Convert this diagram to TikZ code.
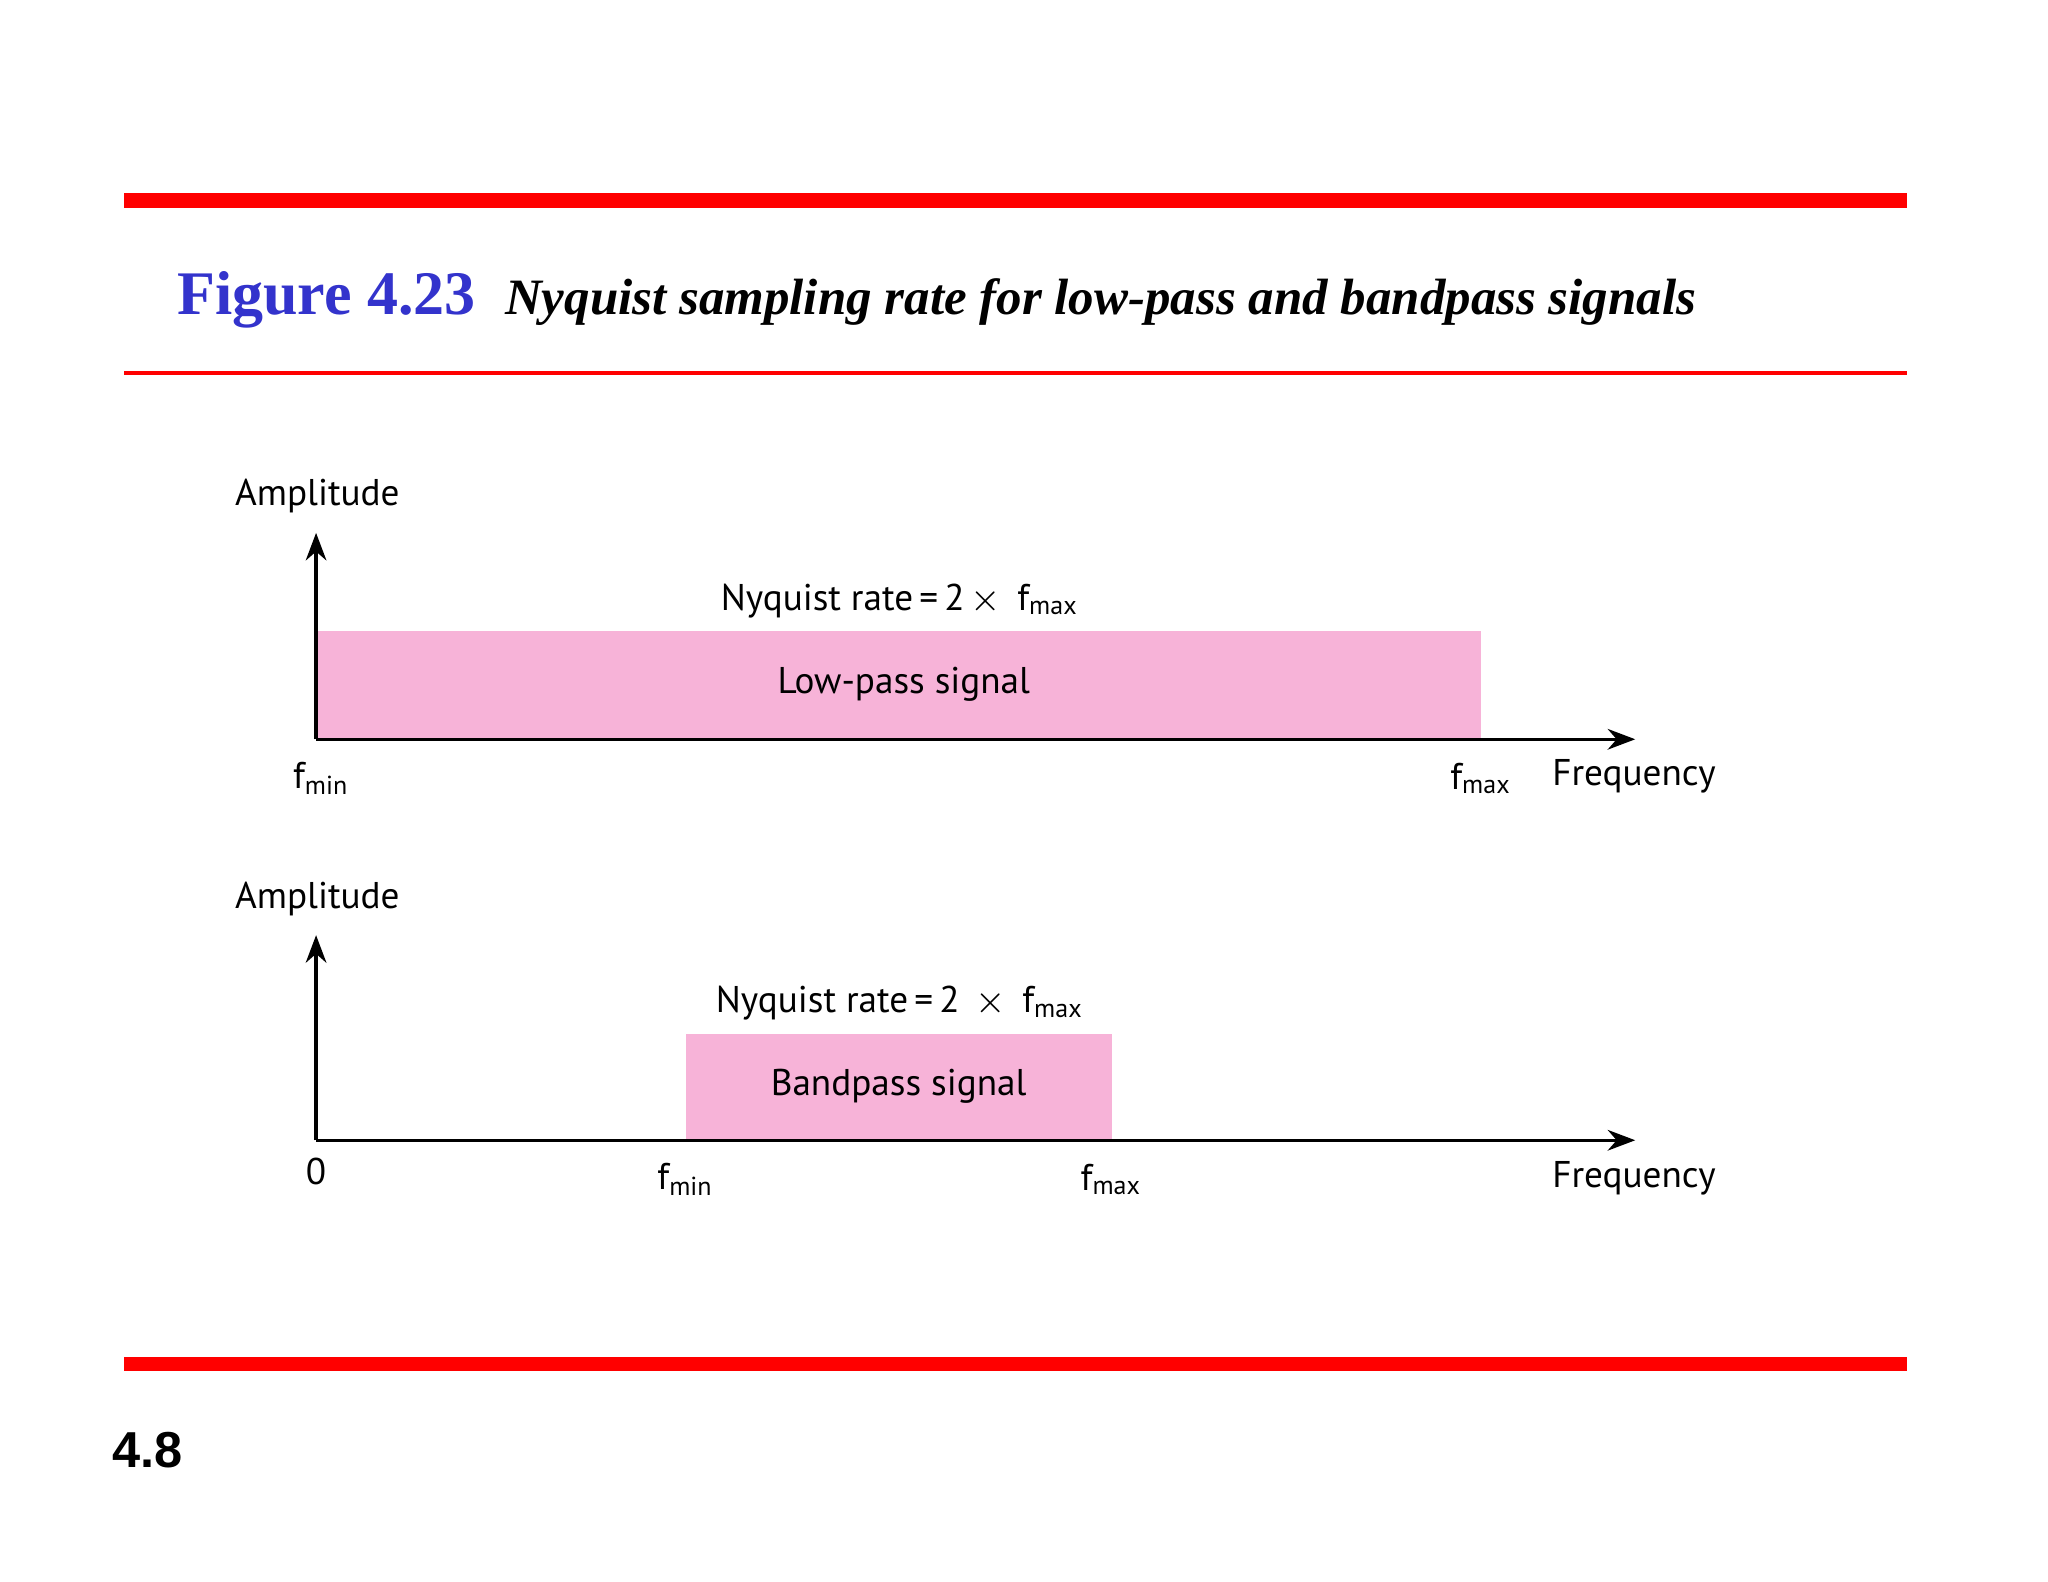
\documentclass[tikz,border=0pt]{standalone}
\usepackage{fontspec}
\usetikzlibrary{arrows.meta}
\setmainfont{Liberation Serif}
\newfontfamily\lab{PT Sans}
\newfontfamily\hv{Liberation Sans}
\definecolor{pinkfill}{HTML}{F7B3D8}
\definecolor{figblue}{HTML}{3333CC}
\begin{document}
\begin{tikzpicture}[x=0.01cm,y=-0.01cm,
  lbl/.style={font=\lab\fontsize{8.1}{9}\selectfont,inner sep=0pt},
  axis/.style={line width=0.7pt,-{Stealth[length=6pt,width=4.5pt]}},
  sig/.style={fill=pinkfill,draw=none}]
\useasboundingbox (0,0) rectangle (1568,1211);
\fill[red] (95,148) rectangle (1460,159);
\fill[red] (95,284) rectangle (1460,287);
\fill[red] (95,1039) rectangle (1460,1050);
\node[anchor=base west,inner sep=0pt,text=figblue,font=\bfseries\fontsize{13.5}{15}\selectfont] (t1) at (135,241) {Figure 4.23};
\node[anchor=base west,inner sep=0pt,font=\bfseries\itshape\fontsize{11.1}{12}\selectfont] (t2) at (386,241) {Nyquist sampling rate for low-pass and bandpass signals};
% panel 1
\fill[sig] (243,483) rectangle (1134,566);
\coordinate (o1) at (242,566);
\coordinate (y1) at (242,408);
\coordinate (x1) at (1252,566);
\draw[axis] (o1) -- (y1);
\draw[axis] (o1) -- (x1);
\node[lbl] (lp) at (692,524) {Low-pass signal};
\node[lbl] (n1) at (689,460) {Nyquist rate\,=\,2\,$\times$\, f\textsubscript{max}};
\node[lbl] (a1) at (243,380) {Amplitude};
\node[lbl] (fmin1) at (246,596) {f\textsubscript{min}};
\node[lbl] (fmax1) at (1134,596) {f\textsubscript{max}};
\node[lbl] (fr1) at (1251,594) {Frequency};
% panel 2
\fill[sig] (525,792) rectangle (851,873);
\coordinate (o2) at (242,873);
\coordinate (y2) at (242,716);
\coordinate (x2) at (1252,873);
\draw[axis] (o2) -- (y2);
\draw[axis] (o2) -- (x2);
\node[lbl] (bp) at (688,832) {Bandpass signal};
\node[lbl] (n2) at (689,768) {Nyquist rate\,=\,2 \,$\times$\, f\textsubscript{max}};
\node[lbl] (a2) at (243,688) {Amplitude};
\node[lbl] (z) at (242,897) {0};
\node[lbl] (fmin2) at (525,903) {f\textsubscript{min}};
\node[lbl] (fmax2) at (851,903) {f\textsubscript{max}};
\node[lbl] (fr2) at (1251,902) {Frequency};
\node[font=\hv\bfseries\fontsize{11}{13}\selectfont,inner sep=0pt] (pg) at (113,1110) {4.8};
\end{tikzpicture}
\end{document}
